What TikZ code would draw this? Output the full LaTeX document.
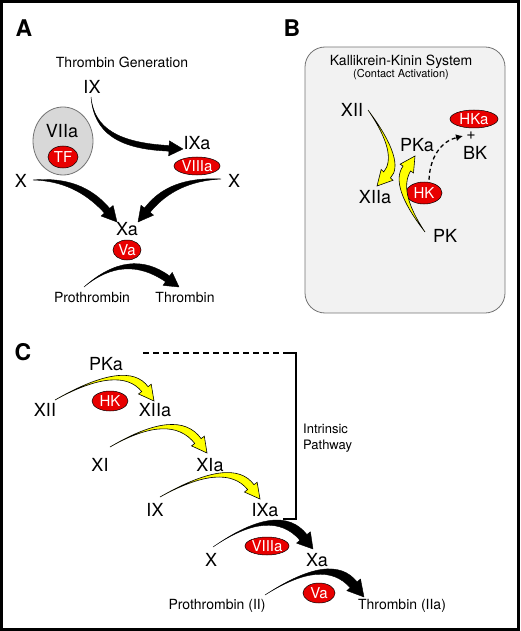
\documentclass[tikz,border=0pt]{standalone}
\usepackage{fontspec}
\setmainfont{TeX Gyre Heros}
\usepackage{tikz}
\usetikzlibrary{arrows.meta,positioning,calc,shapes.geometric}
\definecolor{ink}{RGB}{0,0,0}
\definecolor{factorred}{RGB}{232,0,0}
\definecolor{pathyellow}{RGB}{255,255,0}
\definecolor{boxgray}{RGB}{242,242,242}
\definecolor{ovalgray}{RGB}{216,216,216}
\definecolor{edgegray}{RGB}{115,115,115}
% tapered curved arrow: style, start, control 1, control 2, tip, half shaft, head length, half head
\newcommand{\fatarrow}[8]{%
  \path (#2) coordinate (fa-s) (#5) coordinate (fa-t) (#4) coordinate (fa-c);
  \path ($(fa-t)!#7!(fa-c)$) coordinate (fa-m);
  \path ($(fa-m)!#6!90:(fa-c)$) coordinate (fa-l)
        ($(fa-m)!#6!-90:(fa-c)$) coordinate (fa-r)
        ($(fa-m)!#8!90:(fa-c)$) coordinate (fa-hl)
        ($(fa-m)!#8!-90:(fa-c)$) coordinate (fa-hr);
  \path ($(fa-l)-(fa-m)$) coordinate (fa-v);
  \filldraw[#1] (fa-s) .. controls ($(#3)+0.8*(fa-v)$) and ($(#4)+1.15*(fa-v)$) .. (fa-l)
    -- (fa-hl) -- (fa-t) -- (fa-hr)
    -- (fa-r) .. controls ($(#4)-1.15*(fa-v)$) and ($(#3)-0.8*(fa-v)$) .. (fa-s) -- cycle;
}
\tikzset{
  lbl/.style={font=\fontsize{18}{20}\selectfont,inner sep=0pt,text=ink},
  caption/.style={font=\fontsize{14}{16}\selectfont,inner sep=0pt,text=ink},
  subcaption/.style={font=\fontsize{11}{13}\selectfont,inner sep=0pt,text=ink},
  panel/.style={font=\fontsize{23}{25}\selectfont\bfseries,inner sep=0pt},
  redoval/.style={ellipse,draw=black,line width=0.5pt,fill=factorred,text=white,
    inner sep=0pt,font=\fontsize{15}{16}\selectfont},
  grayoval/.style={ellipse,draw=edgegray,line width=0.8pt,fill=ovalgray,inner sep=0pt},
  kksbox/.style={rectangle,rounded corners=20pt,draw=edgegray,line width=0.8pt,fill=boxgray},
  blackarrow/.style={fill=black,draw=black,line width=0.4pt,line join=round},
  yellowarrow/.style={fill=pathyellow,draw=black,line width=0.6pt,line join=miter},
  dasharrow/.style={-{Latex[length=7pt,width=7pt]},line width=1.3pt,dash pattern=on 4pt off 3pt},
  bracket/.style={line width=1.2pt,draw=ink}
}

\begin{document}
\begin{tikzpicture}[x=1pt,y=-1pt]
  \useasboundingbox (0,0) rectangle (520,631);
  \draw[line width=3pt] (1.5,1.5) rectangle (518.5,629.5);

  % A: thrombin generation
  \node[panel] (panA) at (24,28) {A};
  \node[caption] (titleA) at (122,62) {Thrombin Generation};
  \node[lbl] (ix) at (92,87) {IX};
  \node[grayoval,minimum width=60,minimum height=68] (tfcomplex) at (63,141) {};
  \node[lbl] (viia) at (62,131) {VIIa};
  \node[redoval,minimum width=30,minimum height=22] (tf) at (63,157) {TF};
  \node[lbl] (ixa) at (197,143) {IXa};
  \node[redoval,minimum width=46,minimum height=18] (viiia) at (197,166) {VIIIa};
  \node[lbl] (xl) at (21,181) {X};
  \node[lbl] (xr) at (234,181) {X};
  \node[lbl] (xa) at (127,229) {Xa};
  \node[redoval,minimum width=28,minimum height=20] (va) at (127,250) {Va};
  \node[caption] (proA) at (92,297) {Prothrombin};
  \node[caption] (thrA) at (185,297) {Thrombin};

  \fatarrow{blackarrow}{$(ix)+(-1,10)$}{94,131}{119,146}{$(ixa)+(-14,6)$}{2.8pt}{14pt}{7.5pt}
  \fatarrow{blackarrow}{$(xl)+(12,-1)$}{64,179}{88,189}{$(xa)+(-10,-7)$}{3.5pt}{15pt}{8pt}
  \fatarrow{blackarrow}{$(xr)+(-13,-2)$}{188,179}{164,189}{$(xa)+(11,-7)$}{3.5pt}{15pt}{8pt}
  \fatarrow{blackarrow}{$(proA)+(-8,-10)$}{113,262}{141,260}{$(thrA)+(-6,-10)$}{3.5pt}{14pt}{8pt}

  % B: kallikrein-kinin system
  \node[panel] (panB) at (292,28) {B};
  \node[kksbox,minimum width=200,minimum height=266] (kks) at (405,180) {};
  \node[caption] (titleB) at (401,62) {Kallikrein-Kinin System};
  \node[subcaption] (subB) at (401,75) {(Contact Activation)};
  \node[lbl] (xii) at (352,110) {XII};
  \node[lbl] (pka) at (417,145) {PKa};
  \node[lbl] (xiia) at (375,197) {XIIa};
  \node[redoval,minimum width=36,minimum height=22] (hk) at (424,193) {HK};
  \node[lbl] (pk) at (445,236) {PK};
  \node[redoval,minimum width=48,minimum height=18] (hka) at (474,119) {HKa};
  \node[lbl,font=\fontsize{16}{18}\selectfont] (plus) at (471,136) {+};
  \node[lbl] (bk) at (475,153) {BK};

  \fatarrow{yellowarrow}{$(xii)+(16,0)$}{391,142}{397,164}{$(xiia)+(2,-11)$}{4.5pt}{15pt}{8pt}
  \fatarrow{yellowarrow}{$(pk)+(-20,-4)$}{404,203}{398,182}{$(pka)+(-2,11)$}{4.5pt}{15pt}{8pt}
  \draw[dasharrow] ($(hk.north)+(5,-2)$) .. controls (430,156) and (442,141) .. ($(hka)+(-11,17)$);

  % C: intrinsic pathway
  \node[panel] (panC) at (23,352) {C};
  \node[lbl] (pkaC) at (106,364) {PKa};
  \node[lbl] (xiiC) at (45,410) {XII};
  \node[redoval,minimum width=36,minimum height=20] (hkC) at (110,401) {HK};
  \node[lbl] (xiiaC) at (155,410) {XIIa};
  \node[lbl] (xiC) at (100,465) {XI};
  \node[lbl] (xiaC) at (210,465) {XIa};
  \node[lbl] (ixC) at (155,510) {IX};
  \node[lbl] (ixaC) at (265,510) {IXa};
  \node[lbl] (xC) at (211,560) {X};
  \node[redoval,minimum width=44,minimum height=18] (viiiaC) at (267,546) {VIIIa};
  \node[lbl] (xaC) at (317,560) {Xa};
  \node[caption] (proC) at (217,606) {Prothrombin (II)};
  \node[redoval,minimum width=32,minimum height=20] (vaC) at (319,593) {Va};
  \node[caption] (thrC) at (402,606) {Thrombin (IIa)};
  \node[caption,align=left,anchor=west,font=\fontsize{13}{16}\selectfont] (intr) at (303,438) {Intrinsic\\Pathway};

  \draw[bracket,dash pattern=on 6pt off 4pt] (143,353) -- (283,353);
  \draw[bracket] (283,353) -- (296,353) -- (296,519) -- (283,519);

  \fatarrow{yellowarrow}{$(xiiC)+(10,-10)$}{101,374}{131,371}{$(xiiaC)+(-1,-9)$}{4pt}{15pt}{8pt}
  \fatarrow{yellowarrow}{$(xiC)+(10,-18)$}{153,422}{182,420}{$(xiaC)+(-3,-12)$}{4pt}{15pt}{8pt}
  \fatarrow{yellowarrow}{$(ixC)+(5,-13)$}{206,471}{236,468}{$(ixaC)+(-5,-11)$}{4pt}{15pt}{8pt}
  \fatarrow{blackarrow}{$(xC)+(2,-13)$}{255,518}{285,515}{$(xaC)+(-4,-11)$}{4.5pt}{15pt}{9pt}
  \fatarrow{blackarrow}{$(proC)+(48,-11)$}{307,568}{336,564}{$(thrC)+(-38,-9)$}{4.5pt}{16pt}{9pt}
\end{tikzpicture}
\end{document}
